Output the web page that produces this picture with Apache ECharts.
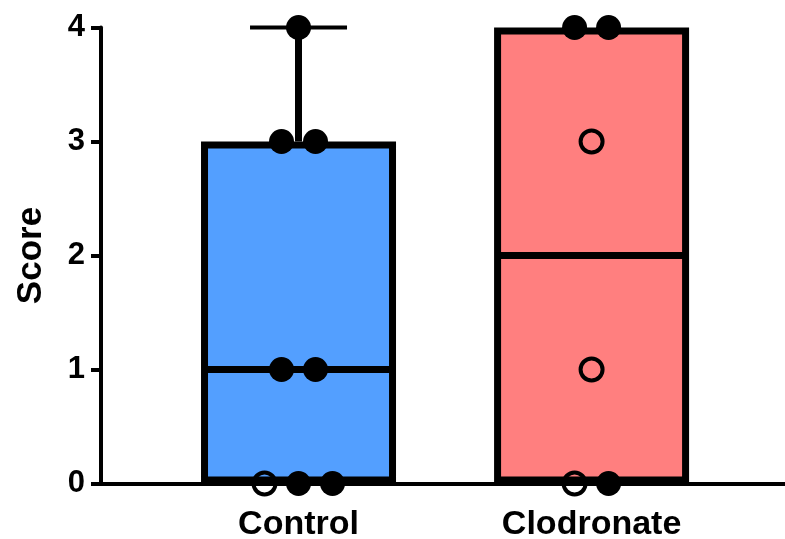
<!DOCTYPE html>
<html>
<head>
<meta charset="utf-8">
<script src="https://cdn.jsdelivr.net/npm/echarts@6/dist/echarts.min.js"></script>
<style>
  html, body { margin: 0; padding: 0; background: #fff; }
  #chart { width: 785px; height: 539px; }
</style>
</head>
<body>
<div id="chart"></div>
<script>
// groups
const categories = ['Control', 'Clodronate'];
// min, q1, median, q3, max
const boxStats = [
  [0, 0, 1, 3, 4],
  [0, 0, 2, 4, 4]
];
// individual scores (filled / open symbols)
const filledScores = [
  [0, 0, 1, 1, 3, 3, 4],
  [0, 4, 4]
];
const openScores = [
  [0],
  [0, 1, 3]
];
const yTicks = [0, 1, 2, 3, 4];

const boxColors = ['#539FFF', '#FF7F7F'];
const FONT = '"Liberation Sans", Arial, Helvetica, sans-serif';
const DOT_GAP = 34; // px between dots that share a score

// spread dots with the same score side by side, open ones first
const filledData = [];
const openData = [];
categories.forEach(function (name, g) {
  const scores = {};
  openScores[g].forEach(function (v) { (scores[v] = scores[v] || []).push('open'); });
  filledScores[g].forEach(function (v) { (scores[v] = scores[v] || []).push('filled'); });
  Object.keys(scores).forEach(function (v) {
    const list = scores[v];
    list.forEach(function (kind, k) {
      const dx = (k - (list.length - 1) / 2) * DOT_GAP;
      const item = { value: [g + 1, Number(v)], symbolOffset: [dx, 0] };
      (kind === 'open' ? openData : filledData).push(item);
    });
  });
});

const boxData = boxStats.map(function (s, g) { return [g + 1].concat(s); });

const chart = echarts.init(document.getElementById('chart'));
chart.setOption({
  animation: false,
  grid: { left: 101, right: 0, top: 27.5, bottom: 55.5, containLabel: false, outerBoundsMode: 'none' },
  xAxis: {
    type: 'value',
    min: 0.326,
    max: 2.66,
    splitLine: { show: false },
    axisTick: { show: false },
    axisLine: { show: true, onZero: false, lineStyle: { color: '#000', width: 4 } },
    axisLabel: {
      customValues: [1, 2],
      formatter: function (v) { return categories[Math.round(v) - 1]; },
      color: '#000',
      fontFamily: FONT,
      fontWeight: 'bold',
      fontSize: 34,
      margin: 24
    }
  },
  yAxis: {
    type: 'value',
    min: yTicks[0],
    max: yTicks[yTicks.length - 1],
    interval: 1,
    name: 'Score',
    nameLocation: 'middle',
    nameRotate: 90,
    nameGap: 52,
    nameTextStyle: { color: '#000', fontFamily: FONT, fontWeight: 'bold', fontSize: 35 },
    splitLine: { show: false },
    axisLine: { show: true, lineStyle: { color: '#000', width: 4 } },
    axisTick: { show: true, length: 10, lineStyle: { color: '#000', width: 4 } },
    axisLabel: { color: '#000', fontFamily: FONT, fontWeight: 'bold', fontSize: 31, margin: 16 }
  },
  series: [
    {
      type: 'custom',
      data: boxData,
      encode: { x: 0, y: [1, 2, 3, 4, 5] },
      z: 1,
      renderItem: function (params, api) {
        const x = api.value(0);
        const xc = api.coord([x, 0])[0];
        const yOf = function (v) { return api.coord([x, v])[1]; };
        const mn = api.value(1), q1 = api.value(2), md = api.value(3), q3 = api.value(4), mx = api.value(5);
        const halfW = 97.5, lw = 7, inset = lw / 2, capHalf = 48.5;
        const children = [];
        if (mx > q3) {
          children.push({ type: 'line', shape: { x1: xc, y1: yOf(q3), x2: xc, y2: yOf(mx) },
            style: { stroke: '#000', lineWidth: lw } });
          children.push({ type: 'line', shape: { x1: xc - capHalf, y1: yOf(mx), x2: xc + capHalf, y2: yOf(mx) },
            style: { stroke: '#000', lineWidth: 4 } });
        }
        if (mn < q1) {
          children.push({ type: 'line', shape: { x1: xc, y1: yOf(q1), x2: xc, y2: yOf(mn) },
            style: { stroke: '#000', lineWidth: lw } });
          children.push({ type: 'line', shape: { x1: xc - capHalf, y1: yOf(mn), x2: xc + capHalf, y2: yOf(mn) },
            style: { stroke: '#000', lineWidth: 4 } });
        }
        children.push({
          type: 'rect',
          shape: { x: xc - halfW + inset, y: yOf(q3) + inset, width: 2 * (halfW - inset), height: yOf(q1) - yOf(q3) - lw },
          style: { fill: boxColors[params.dataIndex], stroke: '#000', lineWidth: lw }
        });
        children.push({ type: 'line', shape: { x1: xc - halfW + inset, y1: yOf(md), x2: xc + halfW - inset, y2: yOf(md) },
          style: { stroke: '#000', lineWidth: lw } });
        return { type: 'group', children: children };
      }
    },
    {
      type: 'scatter',
      data: filledData,
      symbol: 'circle',
      symbolSize: 25,
      clip: false,
      z: 3,
      itemStyle: { color: '#000', opacity: 1 }
    },
    {
      type: 'scatter',
      data: openData,
      symbol: 'circle',
      symbolSize: 22,
      clip: false,
      z: 3,
      itemStyle: { color: 'rgba(0,0,0,0)', borderColor: '#000', borderWidth: 4, opacity: 1 }
    }
  ]
});
</script>
</body>
</html>
